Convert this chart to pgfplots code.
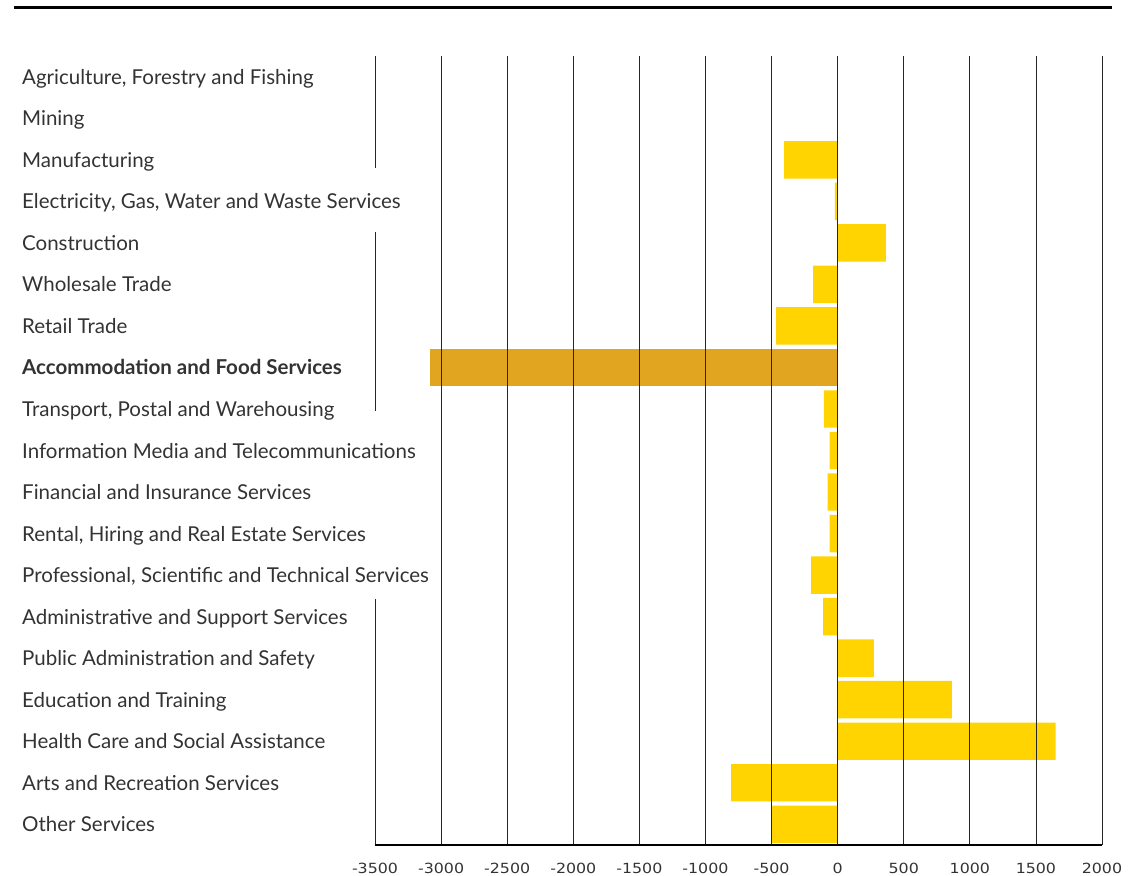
\documentclass[border=0pt]{standalone}
\usepackage{pgfplots}
\pgfplotsset{compat=1.18}
\usepackage{fontspec}
\setmainfont{Lato}
\newfontfamily\tickfont[FakeStretch=1.13]{DejaVu Sans}
\definecolor{barY}{HTML}{FFD400}
\definecolor{barO}{HTML}{E2A520}
\definecolor{txt}{HTML}{333333}
\begin{document}
\begin{tikzpicture}
\useasboundingbox (0bp,0bp) rectangle (1144bp,-876bp);
\draw[black, line width=3bp] (14bp,-7bp) -- (1112bp,-7bp);
\begin{axis}[
  at={(375bp,-845bp)}, anchor=south west,
  scale only axis, width=727bp, height=789bp,
  xmin=-3500, xmax=2000, ymin=-0.5, ymax=18.5, y dir=reverse,
  xbar, bar width=0.9, /pgf/bar shift=0pt,
  axis on top,
  axis x line*=bottom, axis y line*=left,
  x axis line style={black, line width=1.2bp},
  y axis line style={draw=none},
  major tick length=0pt, tick style={draw=none},
  xmajorgrids=true, grid style={black!85, line width=0.8bp},
  xtick={-3000,-2500,...,2000},
  xticklabels={-3000,-2500,-2000,-1500,-1000,-500,0,500,1000,1500,2000},
  extra x ticks={-3500}, extra x tick labels={-3500},
  extra x tick style={xmajorgrids=false},
  xticklabel style={font=\tickfont\fontsize{14bp}{16bp}\selectfont, text=txt, inner sep=0pt, anchor=north, yshift=-17.5bp},
  ytick={0,...,18},
  yticklabels={{Agriculture, Forestry and Fishing},Mining,Manufacturing,{Electricity, Gas, Water and Waste Services},Construction,Wholesale Trade,Retail Trade,\textbf{Accommodation and Food Services},{Transport, Postal and Warehousing},Information Media and Telecommunications,Financial and Insurance Services,{Rental, Hiring and Real Estate Services},{Professional, Scientific and Technical Services},Administrative and Support Services,Public Administration and Safety,Education and Training,Health Care and Social Assistance,Arts and Recreation Services,Other Services},
  yticklabel style={anchor=base west, inner sep=0pt, xshift=-353bp, yshift=-7.5bp, font=\fontsize{20.5bp}{24bp}\selectfont, text=txt},
]
\addplot[fill=barY, draw=none] table[x=v, y=i] {
i v
0 0
1 0
2 -405
3 -20
4 365
5 -185
6 -465
8 -105
9 -60
10 -75
11 -60
12 -200
13 -110
14 275
15 865
16 1650
17 -805
18 -495
};
\addplot[fill=barO, draw=none] table[x=v, y=i] {
i v
7 -3085
};
\draw[black!85, line width=0.8bp] (axis cs:-3500,-0.5) -- (axis cs:-3500,2.2)
  (axis cs:-3500,3.74) -- (axis cs:-3500,8.04)
  (axis cs:-3500,12.57) -- (axis cs:-3500,18.5);
\end{axis}
\end{tikzpicture}
\end{document}
